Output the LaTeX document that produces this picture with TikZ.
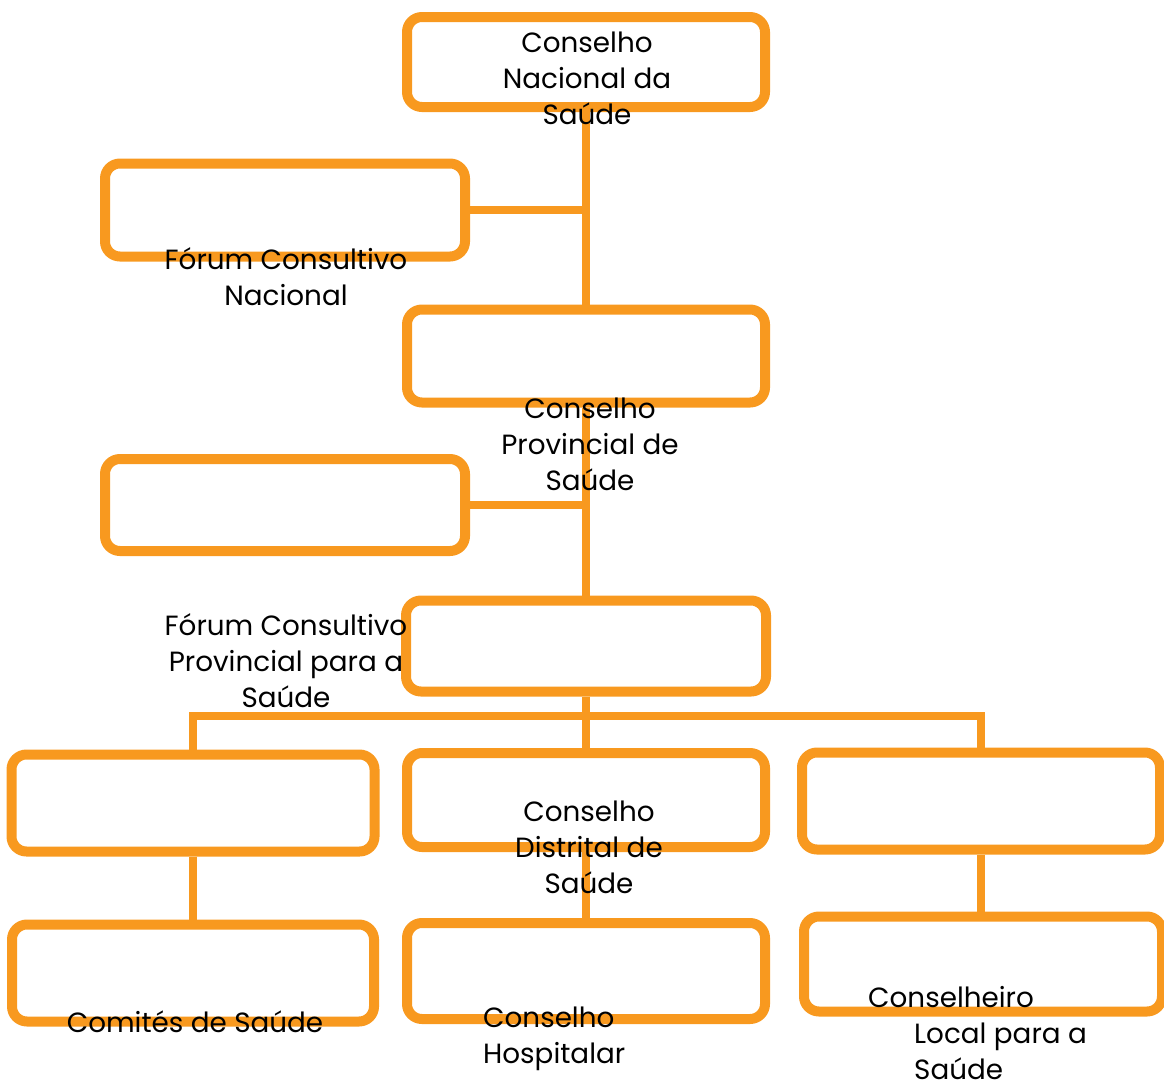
\documentclass[tikz,border=0pt]{standalone}
\usepackage{fontspec}
\setmainfont{Poppins}
\usetikzlibrary{calc}

\definecolor{sorange}{HTML}{F8991F}

\tikzset{
  orgbox/.style={draw=sorange, line width=10pt, rounded corners=15pt, fill=white,
    minimum width=358pt, minimum height=93pt, inner sep=0pt},
  link/.style={draw=sorange, line width=8pt},
  lbl/.style={align=center, inner sep=0pt, font=\fontsize{27.8}{36}\selectfont}
}

\begin{document}
\begin{tikzpicture}[x=1pt,y=-1pt]
\useasboundingbox (0,0) rectangle (1164,1085);

% boxes
\node[orgbox, minimum height=90pt] (cns) at (586,62) {};
\node[orgbox, minimum width=360pt] (fcn) at (285,210) {};
\node[orgbox] (cps) at (586,356) {};
\node[orgbox, minimum width=360pt, minimum height=92pt] (fcp) at (285,505) {};
\node[orgbox, minimum width=360pt, minimum height=91pt] (cds) at (586,646) {};

\node[orgbox, minimum width=363pt, minimum height=97pt] (ldist) at (193,803) {};
\node[orgbox, minimum height=94pt] (mdist) at (586,800) {};
\node[orgbox, minimum height=97pt] (rdist) at (981,801) {};

\node[orgbox, minimum width=362pt, minimum height=97pt] (csaude) at (193,973) {};
\node[orgbox, minimum height=96pt] (chosp) at (586,971) {};
\node[orgbox, minimum height=95pt] (clocal) at (983,964) {};

% connectors
\draw[link] (cns.south) -- (cps.north);
\draw[link] (fcn.east) -- (fcn.east -| cns.south);
\draw[link] (cps.south) -- (cds.north);
\draw[link] (fcp.east) -- (fcp.east -| cps.south);

\coordinate (bus) at (586,716);
\draw[link] (cds.south) -- (bus);
\draw[link] (ldist.north) |- (bus) -| (rdist.north);
\draw[link] (mdist.north) -- (mdist.north |- bus);

\draw[link] (ldist.south) -- (ldist.south |- csaude.north);
\draw[link] (mdist.south) -- (mdist.south |- chosp.north);
\draw[link] (rdist.south) -- (rdist.south |- clocal.north);

% texts
\node[lbl] (cnsT) at (587,78) {Conselho\\Nacional da\\Saúde};
\node[lbl] (fcnT) at (286,277) {Fórum Consultivo\\Nacional};
\node[lbl] (cpsT) at (590,444) {Conselho\\Provincial de\\Saúde};
\node[lbl] (fcpT) at (286,661) {Fórum Consultivo\\Provincial para a\\Saúde};
\node[lbl] (cdsT) at (589,847) {Conselho\\Distrital de\\Saúde};
\node[lbl] (csaudeT) at (195,1022) {Comités de Saúde};
\node[lbl, align=left, anchor=west] (chospT) at (483,1039) {Conselho\\Hospitalar};
\node[lbl, align=left, anchor=west] (clocalT) at (914,1033) {\hspace*{-46pt}Conselheiro\\Local para a\\Saúde};

\end{tikzpicture}
\end{document}
